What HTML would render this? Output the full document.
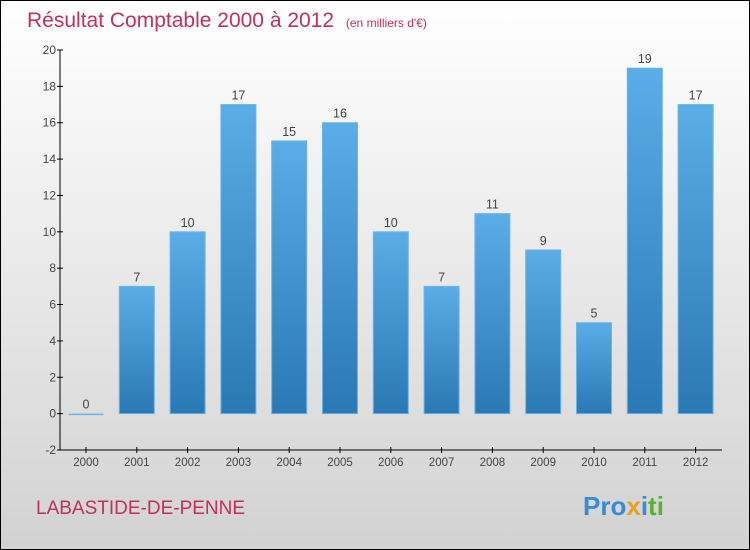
<!DOCTYPE html>
<html><head><meta charset="utf-8"><style>
html,body{margin:0;padding:0}
body{width:750px;height:550px;overflow:hidden;font-family:"Liberation Sans",sans-serif}
#wrap{position:absolute;left:0;top:0;width:748px;height:548px;border:1px solid #000;background:linear-gradient(#fff,#d2d2d2)}
</style></head><body>
<div id="wrap"></div>
<svg id="c" width="750" height="550" style="position:absolute;left:0;top:0">
<defs><linearGradient id="bg" x1="0" y1="0" x2="0" y2="1"><stop offset="0" stop-color="#5aade6"/><stop offset="1" stop-color="#2a78b4"/></linearGradient></defs>
<text x="27" y="27" font-size="21" fill="#c0305a">Résultat Comptable 2000 à 2012 <tspan font-size="12" dx="6">(en milliers d'€)</tspan></text>
<text x="36" y="514" font-size="19" fill="#c0305a">LABASTIDE-DE-PENNE</text>
<text x="583" y="515" font-size="26" font-weight="bold"><tspan fill="#3a8ad8">Pro</tspan><tspan fill="#e8a020">x</tspan><tspan fill="#3a8ad8">i</tspan><tspan fill="#5cb030">ti</tspan></text>
</svg>
<script>
const years=["2000","2001","2002","2003","2004","2005","2006","2007","2008","2009","2010","2011","2012"];
const values=[0,7,10,17,15,16,10,7,11,9,5,19,17];
const yTicks=[-2,0,2,4,6,8,10,12,14,16,18,20];
const svg=document.getElementById('c');const NS='http://www.w3.org/2000/svg';
const yMin=-2,yMax=20,plotTop=50,plotBot=450,x0=60,x1=722;
const y=v=>plotBot-(v-yMin)/(yMax-yMin)*(plotBot-plotTop);
const xc=i=>86+i*50.8;
function mk(t,a,txt){const e=document.createElementNS(NS,t);for(const k in a)e.setAttribute(k,a[k]);if(txt!==undefined)e.textContent=txt;svg.appendChild(e);return e;}
let ax=mk('line',{x1:x0,y1:plotTop,x2:x0,y2:plotBot,stroke:'#000'});


let bx=mk('line',{x1:x0,y1:plotBot,x2:x1,y2:plotBot,stroke:'#000'});


yTicks.forEach(v=>{
 mk('line',{x1:x0-3,y1:y(v),x2:x0+3,y2:y(v),stroke:'#000'});
 const t=mk('text',{x:x0-4,y:y(v)+4,'font-size':12,fill:'#444','text-anchor':'end'},String(v));
 
 
});
years.forEach((yr,i)=>{
 const cx=xc(i),v=values[i];
 mk('line',{x1:cx,y1:plotBot-3,x2:cx,y2:plotBot+3,stroke:'#000'});
 const t=mk('text',{x:cx,y:plotBot+16,'font-size':11.5,fill:'#444','text-anchor':'middle'},yr);
 
 
 const h=Math.max(Math.abs(y(v)-y(0)),1.5);
 const b=mk('rect',{x:cx-17.5,y:Math.min(y(v),y(0)),width:35,height:h,fill:v===0?'#6cb4e8':'url(#bg)',stroke:'#6cb4e8','stroke-width':v===0?0:1});
 
 
 const l=mk('text',{x:cx,y:y(v)-5,'font-size':12.5,fill:'#444','text-anchor':'middle'},String(v));
 
 
});
</script>
</body></html>
